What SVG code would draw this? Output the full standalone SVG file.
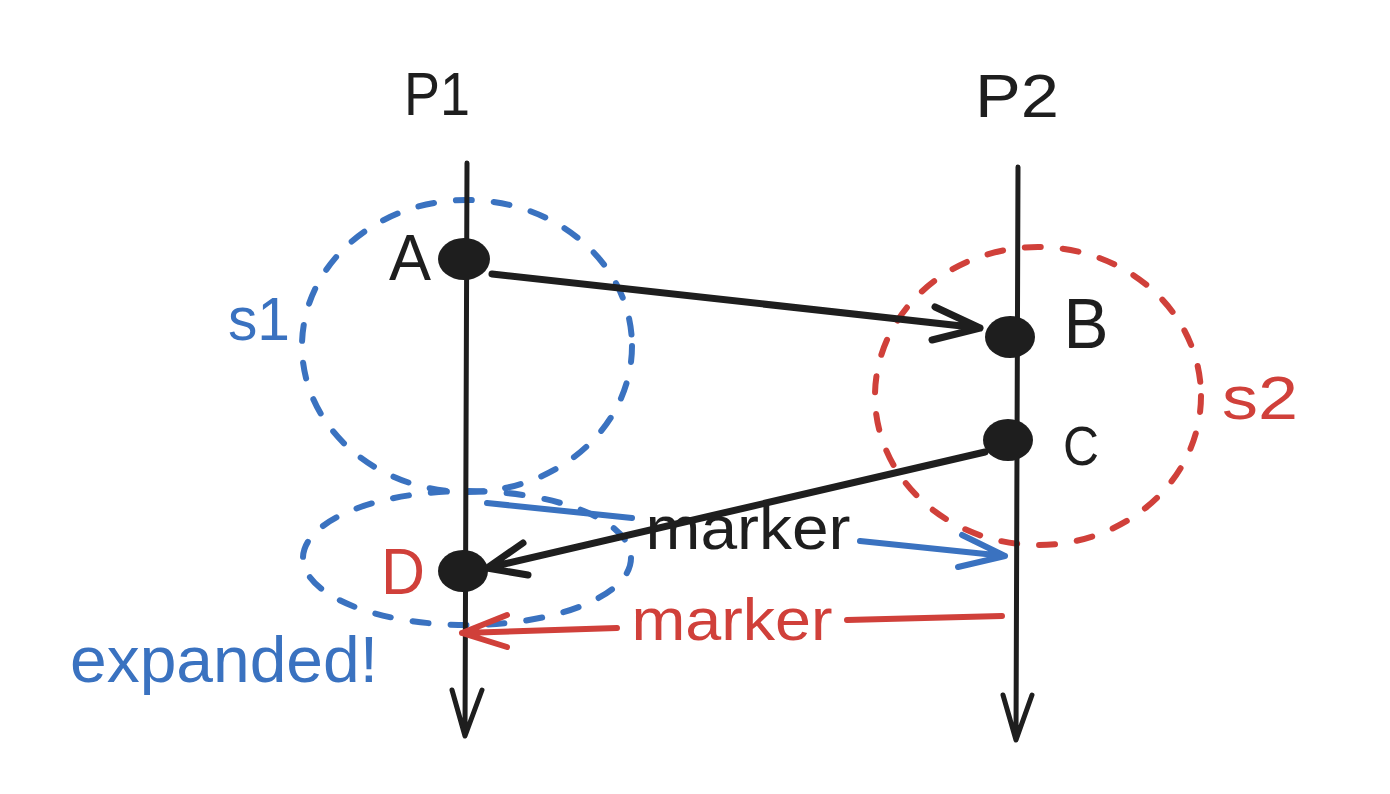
<svg xmlns="http://www.w3.org/2000/svg" width="1390" height="794" viewBox="0 0 1390 794">
<style>
.bg{fill:#ffffff}
.ln{fill:none;stroke:#1e1e1e;stroke-width:5;stroke-linecap:round;stroke-linejoin:round}
.ar{fill:none;stroke:#1e1e1e;stroke-width:7;stroke-linecap:round;stroke-linejoin:round}
.blue{fill:none;stroke:#3a72c0;stroke-width:6;stroke-linecap:round;stroke-linejoin:round}
.red{fill:none;stroke:#d0403a;stroke-width:6;stroke-linecap:round;stroke-linejoin:round}
.dashb{fill:none;stroke:#3a72c0;stroke-width:6;stroke-linecap:round;stroke-dasharray:16 22}
.dashr{fill:none;stroke:#d0403a;stroke-width:6;stroke-linecap:round;stroke-dasharray:16 22}
.dot{fill:#1e1e1e}
.t{font-family:"Liberation Sans","Noto Sans",sans-serif}
.tk{fill:#1e1e1e}
.tb{fill:#3a72c0}
.tr{fill:#d0403a}
</style>
<rect class="bg" x="0" y="0" width="1390" height="794"/>

<g id="scopes">
  <ellipse id="s1-circle" class="dashb" cx="467" cy="346" rx="165" ry="146"/>
  <ellipse id="s2-circle" class="dashr" cx="1038" cy="396" rx="163" ry="149"/>
  <ellipse id="s1-expanded" class="dashb" cx="467" cy="558" rx="164" ry="67"/>
</g>

<g id="lifelines">
  <g id="P1">
    <path class="ln" d="M467 163 L465 736 M452 690 L465 736 L482 690"/>
    <text class="t tk" x="437" y="115" font-size="62" text-anchor="middle" textLength="66" lengthAdjust="spacingAndGlyphs">P1</text>
  </g>
  <g id="P2">
    <path class="ln" d="M1018 167 L1016 740 M1003 695 L1016 740 L1032 695"/>
    <text class="t tk" x="1017" y="117" font-size="62" text-anchor="middle" textLength="84" lengthAdjust="spacingAndGlyphs">P2</text>
  </g>
</g>

<g id="connectors">
  <path id="A-B" class="ar" d="M492 274 L980 328 M935 307 L980 328 L932 340"/>
  <path id="C-D" class="ar" d="M985 452 L487 568 M523 543 L487 568 L528 575"/>
  <path id="blue-marker" class="blue" d="M487 503 L632 518 M860 541 L1005 556 M962 535 L1005 556 L958 567"/>
  <path id="red-marker" class="red" d="M1002 616 L847 620 M617 628 L462 633 M507 615 L462 633 L507 647"/>
</g>

<g id="events">
  <g id="A"><ellipse class="dot" cx="464" cy="259" rx="26" ry="21"/><text class="t tk" x="410" y="280" font-size="64" text-anchor="middle" textLength="42" lengthAdjust="spacingAndGlyphs">A</text></g>
  <g id="B"><ellipse class="dot" cx="1010" cy="337" rx="25" ry="21"/><text class="t tk" x="1086" y="348" font-size="70" text-anchor="middle" textLength="45" lengthAdjust="spacingAndGlyphs">B</text></g>
  <g id="C"><ellipse class="dot" cx="1008" cy="440" rx="25" ry="21"/><text class="t tk" x="1081" y="465" font-size="56" text-anchor="middle" textLength="36" lengthAdjust="spacingAndGlyphs">C</text></g>
  <g id="D"><ellipse class="dot" cx="463" cy="571" rx="25" ry="21"/><text class="t tr" x="403" y="594" font-size="64" text-anchor="middle" textLength="44" lengthAdjust="spacingAndGlyphs">D</text></g>
</g>

<g id="labels">
  <text class="t tb" x="259" y="340" font-size="62" text-anchor="middle" textLength="62" lengthAdjust="spacingAndGlyphs">s1</text>
  <text class="t tr" x="1260" y="419" font-size="62" text-anchor="middle" textLength="76" lengthAdjust="spacingAndGlyphs">s2</text>
  <text class="t tk" x="748" y="549" font-size="62" text-anchor="middle" textLength="205" lengthAdjust="spacingAndGlyphs">marker</text>
  <text class="t tr" x="732" y="640" font-size="60" text-anchor="middle" textLength="201" lengthAdjust="spacingAndGlyphs">marker</text>
  <text class="t tb" x="224" y="682" font-size="64" text-anchor="middle" textLength="308" lengthAdjust="spacingAndGlyphs">expanded!</text>
</g>
</svg>
